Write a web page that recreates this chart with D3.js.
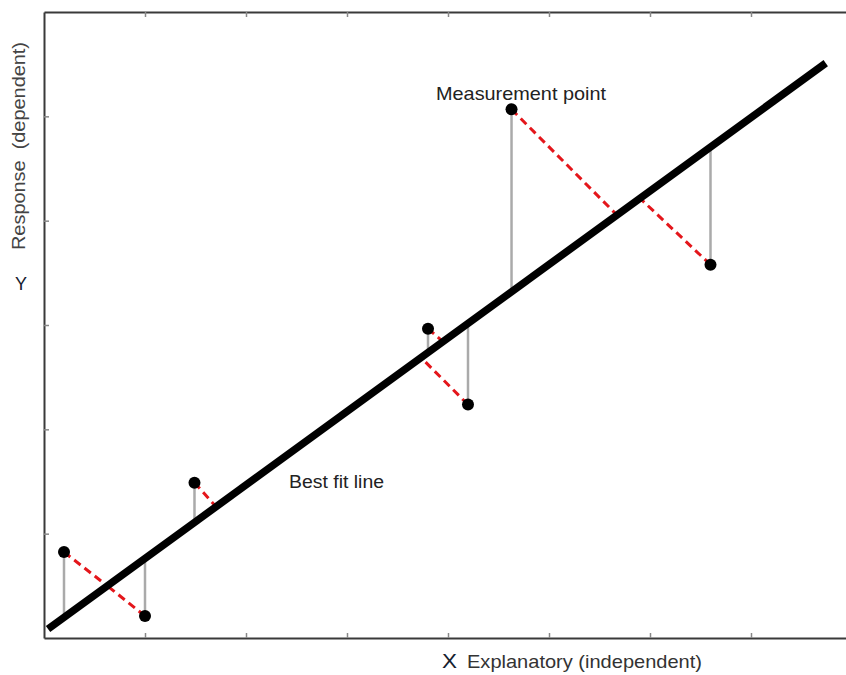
<!DOCTYPE html>
<html>
<head>
<meta charset="utf-8">
<script src="https://cdn.jsdelivr.net/npm/d3@7"></script>
<style>
  html, body { margin: 0; padding: 0; background: #fff; }
  svg { display: block; }
  text { font-family: "Liberation Sans", Arial, sans-serif; }
</style>
</head>
<body>
<svg id="chart" width="846" height="675"></svg>
<script>
// ---- data ----
const pointX = [0.198, 1.0, 1.490, 3.802, 4.198, 4.629, 6.599];
const pointY = [0.824, 0.211, 1.489, 2.965, 2.237, 5.067, 3.578];
// x position of where each point's (dashed) residual meets the fit line
const footX  = [0.627, 0.627, 1.703, 3.950, 3.733, 5.673, 5.901];
const fitSlope = 0.7044;
const fitIntercept = 0.058;
const fitRange = [0.04, 7.74];
const xTicks = [1, 2, 3, 4, 5, 6, 7];
const yTicks = [1, 2, 3, 4, 5];
const xDomain = [0, 8];
const yDomain = [0, 6];
const labels = {
  point: "Measurement point",
  fit: "Best fit line",
  xSym: "X", xText: "Explanatory (independent)",
  ySym: "Y", yText: "Response\u00a0\u00a0(dependent)"
};

// ---- layout ----
const svg = d3.select("#chart");
const padL = 44, padT = 12, padB = 638, padR = 852;
const x = d3.scaleLinear().domain(xDomain).range([padL, padR]);
const y = d3.scaleLinear().domain(yDomain).range([padB, padT]);
const fit = v => fitIntercept + fitSlope * v;

const pts = pointX.map((px, i) => ({ x: px, y: pointY[i], fx: footX[i] }));

// axes / frame
function styleAxis(g) {
  g.select(".domain").attr("stroke", "#3a3a3a").attr("stroke-width", 2);
  g.selectAll(".tick line").attr("stroke", "#888").attr("stroke-width", 1.5);
  g.selectAll(".tick text").remove();
}
svg.append("g").attr("transform", `translate(0,${padB})`)
  .call(d3.axisBottom(x).tickValues(xTicks).tickSizeInner(-5).tickSizeOuter(0).tickFormat(""))
  .call(styleAxis);
svg.append("g").attr("transform", `translate(0,${padT})`)
  .call(d3.axisTop(x).tickValues(xTicks).tickSizeInner(-5).tickSizeOuter(0).tickFormat(""))
  .call(styleAxis);
svg.append("g").attr("transform", `translate(${padL},0)`)
  .call(d3.axisLeft(y).tickValues(yTicks).tickSizeInner(-5).tickSizeOuter(0).tickFormat(""))
  .call(styleAxis);

// vertical residuals
svg.append("g").selectAll("line").data(pts).join("line")
  .attr("x1", d => x(d.x)).attr("x2", d => x(d.x))
  .attr("y1", d => y(d.y)).attr("y2", d => y(fit(d.x)))
  .attr("stroke", "#aaa").attr("stroke-width", 2.5);

// dashed (perpendicular) residuals
svg.append("g").selectAll("line").data(pts).join("line")
  .attr("x1", d => x(d.x)).attr("y1", d => y(d.y))
  .attr("x2", d => x(d.fx)).attr("y2", d => y(fit(d.fx)))
  .attr("stroke", "#e4161b").attr("stroke-width", 3)
  .attr("stroke-dasharray", "8,5");

// best fit line
const line = d3.line().x(d => x(d)).y(d => y(fit(d)));
svg.append("path").datum(fitRange).attr("d", line)
  .attr("fill", "none").attr("stroke", "#000").attr("stroke-width", 7.5);

// points
svg.append("g").selectAll("circle").data(pts).join("circle")
  .attr("cx", d => x(d.x)).attr("cy", d => y(d.y)).attr("r", 6)
  .attr("fill", "#000");

// annotations
svg.append("text").attr("x", 436).attr("y", 100)
  .attr("font-size", 18.5).attr("fill", "#222")
  .attr("textLength", 170).attr("lengthAdjust", "spacingAndGlyphs")
  .text(labels.point);
svg.append("text").attr("x", 289).attr("y", 488)
  .attr("font-size", 18).attr("fill", "#222")
  .attr("textLength", 95).attr("lengthAdjust", "spacingAndGlyphs")
  .text(labels.fit);

// x label
svg.append("text").attr("x", 442).attr("y", 668)
  .attr("font-size", 20).attr("fill", "#15202e")
  .attr("textLength", 15).attr("lengthAdjust", "spacingAndGlyphs")
  .text(labels.xSym);
svg.append("text").attr("x", 467).attr("y", 668)
  .attr("font-size", 19).attr("fill", "#333")
  .attr("textLength", 235).attr("lengthAdjust", "spacingAndGlyphs")
  .text(labels.xText);

// y label
svg.append("text").attr("transform", "translate(25,250) rotate(-90)")
  .attr("font-size", 18).attr("fill", "#444")
  .attr("textLength", 208).attr("lengthAdjust", "spacingAndGlyphs")
  .text(labels.yText);
svg.append("text").attr("x", 21).attr("y", 290).attr("text-anchor", "middle")
  .attr("font-size", 18).attr("fill", "#15202e").text(labels.ySym);
</script>
</body>
</html>
